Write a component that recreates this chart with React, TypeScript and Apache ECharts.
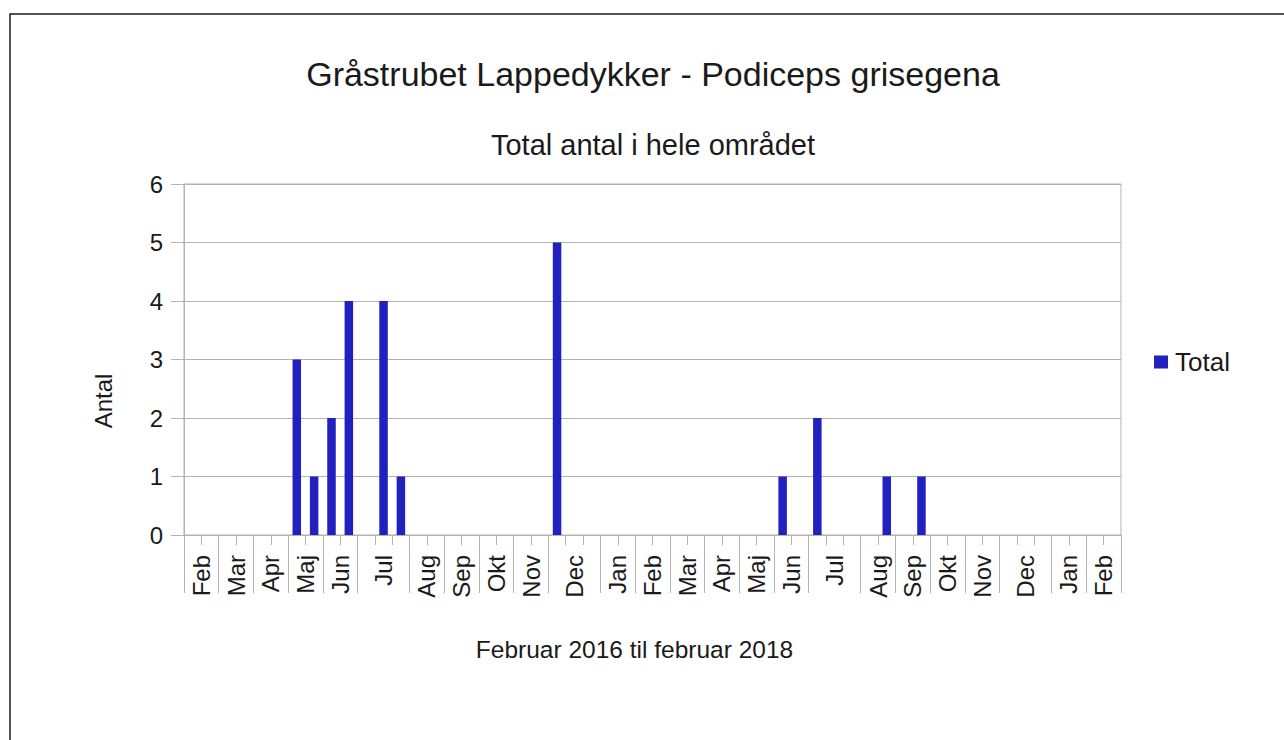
import React, { useEffect, useRef } from "react";
import * as echarts from "echarts";

const titleText = "Gråstrubet Lappedykker - Podiceps grisegena";
const subtitleText = "Total antal i hele området";
const xAxisTitle = "Februar 2016 til februar 2018";
const yAxisTitle = "Antal";
const seriesName = "Total";

// month groups on the category axis (outer level) and number of rows in each
const months = ["Feb", "Mar", "Apr", "Maj", "Jun", "Jul", "Aug", "Sep", "Okt", "Nov", "Dec", "Jan",
  "Feb", "Mar", "Apr", "Maj", "Jun", "Jul", "Aug", "Sep", "Okt", "Nov", "Dec", "Jan", "Feb"];
const rowsPerMonth = [2, 2, 2, 2, 2, 3, 2, 2, 2, 2, 3, 2, 2, 2, 2, 2, 2, 3, 2, 2, 2, 2, 3, 2, 2];

// one value per observation row (54 rows)
const totals = [
  0, 0, 0, 0, 0, 0, 3, 1, 2, 4, 0, 4, 1, 0, 0, 0, 0, 0, 0, 0, 0, 5, 0, 0, 0, 0,
  0, 0, 0, 0, 0, 0, 0, 0, 1, 0, 2, 0, 0, 0, 1, 0, 1, 0, 0, 0, 0, 0, 0, 0, 0, 0, 0, 0,
];

const yTicks = [0, 1, 2, 3, 4, 5, 6];

export default function App() {
  const ref = useRef<HTMLDivElement>(null);
  useEffect(() => {
    if (!ref.current) return;
    const chart = echarts.init(ref.current, null, { renderer: "svg" });
    const nRows = totals.length;
    const boundaries: number[] = [0];
    const centers: number[] = [];
    let acc = 0;
    rowsPerMonth.forEach((n) => {
      centers.push(acc + n / 2);
      acc += n;
      boundaries.push(acc);
    });
    const font = "Liberation Sans";
    const textColor = "#1a1a1a";
    const gridColor = "#b3b3b3";

    chart.setOption({
      animation: false,
      backgroundColor: "#ffffff",
      textStyle: { fontFamily: font },
      title: [
        {
          text: titleText,
          left: 653,
          top: 57,
          padding: 0,
          textAlign: "center",
          textStyle: { fontFamily: font, fontSize: 34, fontWeight: "normal", color: textColor },
        },
        {
          text: subtitleText,
          left: 653,
          top: 130,
          padding: 0,
          textAlign: "center",
          textStyle: { fontFamily: font, fontSize: 29, fontWeight: "normal", color: textColor },
        },
      ],
      legend: {
        data: [seriesName],
        left: 1154,
        top: 349,
        padding: 0,
        icon: "rect",
        itemWidth: 14,
        itemHeight: 13,
        textStyle: { fontFamily: font, fontSize: 26, color: textColor, padding: [0, 0, 0, 2] },
      },
      grid: {
        left: 184,
        right: 163,
        top: 184,
        bottom: 205,
        show: true,
        borderColor: gridColor,
        borderWidth: 1,
        backgroundColor: "transparent",
      },
      xAxis: [
        {
          type: "value",
          min: 0,
          max: nRows,
          interval: 1,
          position: "bottom",
          offset: 0,
          axisLine: { show: true, lineStyle: { color: gridColor, width: 1 } },
          axisTick: { show: true, length: 10, lineStyle: { color: gridColor, width: 1 } },
          axisLabel: { show: false },
          splitLine: { show: false },
        },
        {
          type: "value",
          min: 0,
          max: nRows,
          position: "bottom",
          offset: 0,
          axisLine: { show: false },
          axisTick: {
            show: true,
            length: 58,
            customValues: boundaries,
            lineStyle: { color: gridColor, width: 1 },
          },
          axisLabel: {
            show: true,
            customValues: centers,
            rotate: 90,
            margin: 20,
            fontSize: 24,
            fontFamily: font,
            color: textColor,
            formatter: (v: number) => {
              const idx = centers.findIndex((c) => Math.abs(c - v) < 0.01);
              return idx >= 0 ? months[idx] : "";
            },
          },
          splitLine: { show: false },
        },
      ],
      yAxis: {
        type: "value",
        min: yTicks[0],
        max: yTicks[yTicks.length - 1],
        interval: 1,
        axisLine: { show: true, lineStyle: { color: gridColor, width: 1 } },
        axisTick: { show: true, length: 13, lineStyle: { color: gridColor, width: 1 } },
        axisLabel: { margin: 21, fontSize: 24, fontFamily: font, color: textColor },
        splitLine: { show: true, lineStyle: { color: gridColor, width: 1 } },
      },
      graphic: [
        {
          type: "rect",
          shape: { x: 10, y: 14, width: 1400, height: 900 },
          style: { fill: "none", stroke: "#1a1a1a", lineWidth: 1.5 },
          silent: true,
        },
        {
          type: "text",
          x: 103,
          y: 401,
          rotation: Math.PI / 2,
          style: {
            text: yAxisTitle,
            fontFamily: font,
            fontSize: 24,
            fill: textColor,
            textAlign: "center",
            textVerticalAlign: "middle",
          },
        },
        {
          type: "text",
          x: 634.5,
          y: 649,
          style: {
            text: xAxisTitle,
            fontFamily: font,
            fontSize: 24.5,
            fill: textColor,
            textAlign: "center",
            textVerticalAlign: "middle",
          },
        },
      ],
      series: [
        {
          name: seriesName,
          type: "bar",
          xAxisIndex: 0,
          barWidth: 8.5,
          itemStyle: { color: "#2121c0" },
          data: totals.map((v, i) => [i + 0.5, v]),
        },
      ],
    });
    return () => chart.dispose();
  }, []);
  return (
    <div
      ref={ref}
      style={{ position: "absolute", left: 0, top: 0, width: 1284, height: 740, background: "#fff" }}
    />
  );
}
